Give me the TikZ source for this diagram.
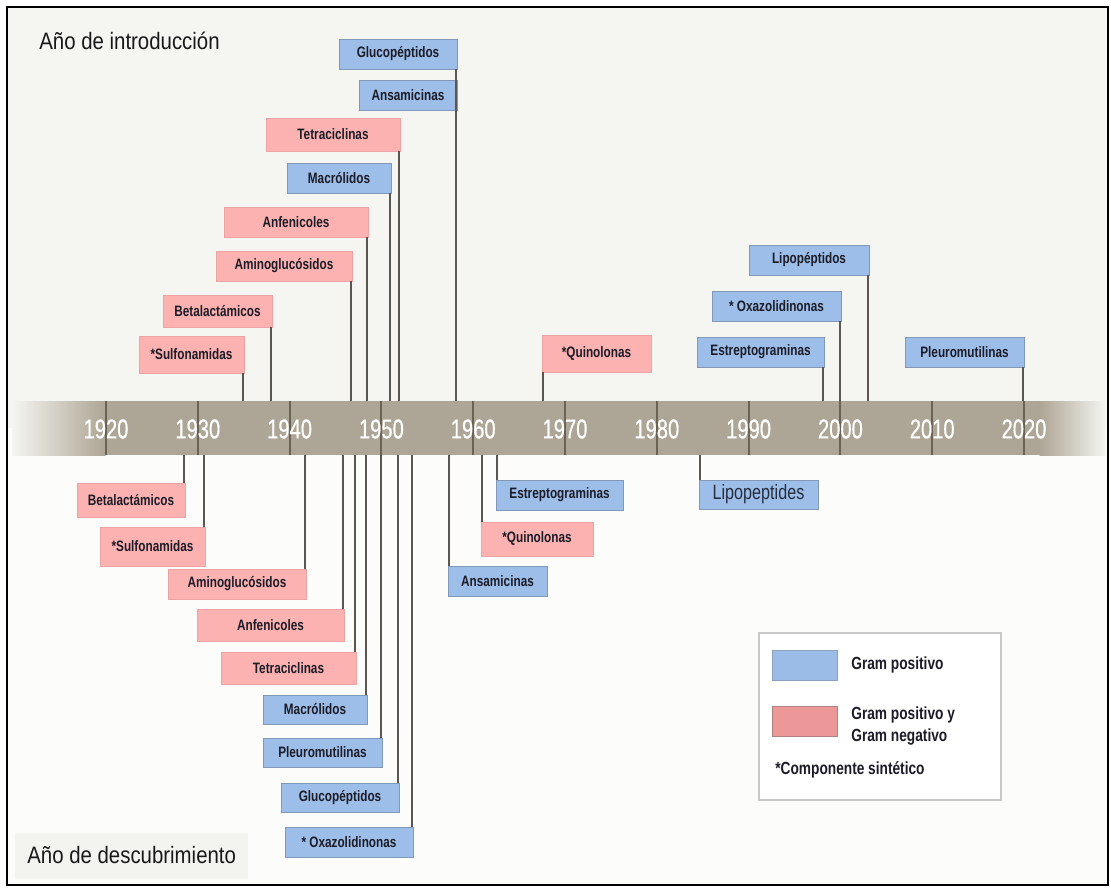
\documentclass[tikz,border=0pt]{standalone}
\usepackage{fontspec}
\setmainfont{Liberation Sans}
\newfontfamily\condf{Liberation Sans}[FakeStretch=0.78]
\newfontfamily\titlef{Liberation Sans}[FakeStretch=0.86]
\newfontfamily\yearf{Liberation Sans}[FakeStretch=0.74,FakeBold=0.6]
\definecolor{bgU}{HTML}{F5F5F1}
\definecolor{bgL}{HTML}{FCFDFA}
\definecolor{bandc}{HTML}{ADA595}
\definecolor{tickc}{HTML}{6A6253}
\definecolor{connc}{HTML}{5C5550}
\definecolor{blueF}{HTML}{9DBEE8}
\definecolor{blueD}{HTML}{8298B8}
\definecolor{pinkF}{HTML}{FDB2B2}
\definecolor{pinkD}{HTML}{EBA3A3}
\definecolor{txtc}{HTML}{1C1C28}
\definecolor{descbg}{HTML}{F3F4F0}
\newcommand\tlbox[7]{\node[#6, minimum width={(#4-#2)*0.02cm}, minimum height={(#5-#3)*0.02cm}] (#1) at ({(#2+#4)/2},{(#3+#5)/2}) {#7};}
\tikzset{
  boxbase/.style={inner sep=0pt, outer sep=0pt, text=txtc, font=\condf\bfseries\fontsize{8.6}{10}\selectfont},
  bluebox/.style={boxbase, fill=blueF, draw=blueD, line width=0.5pt},
  pinkbox/.style={boxbase, fill=pinkF, draw=pinkD, line width=0.3pt},
  conn/.style={draw=connc, line width=1.05pt},
  tickln/.style={draw=tickc, line width=1.05pt},
  yearlbl/.style={text=white, font=\yearf\fontsize{15.5}{17}\selectfont, inner sep=0pt},
  titlelbl/.style={text=black!90, font=\titlef\fontsize{13.5}{16}\selectfont, inner sep=0pt, anchor=base west},
  legtxt/.style={text=txtc, font=\condf\bfseries\fontsize{10}{12.5}\selectfont, inner sep=0pt, align=left}
}
\begin{document}
\begin{tikzpicture}[x=0.02cm, y=-0.02cm]
% background and frame
\fill[white] (0,0) rectangle (1111,888);
\useasboundingbox (0,0) rectangle (1111,888);
\fill[bgU] (7,7) rectangle (1108,428);
\fill[bgL] (7,428) rectangle (1108,885);
\fill[descbg] (15,833) rectangle (248,879);
\draw[black, line width=0.7pt] (7,7) rectangle (1108,885);
% titles
\node[titlelbl] (tIntro) at (39,50) {Año de introducción};
\node[titlelbl] (tDesc) at (27,863) {Año de descubrimiento};
% band
\coordinate (bandT) at (0,401);
\coordinate (bandB) at (0,455);
\fill[bandc] (105,401) rectangle (1040,455);
\shade[left color=bgU, right color=bandc] (12,401) rectangle (105.5,455);
\shade[left color=bandc, right color=bgU] (1039.5,401) rectangle (1106,455);
\foreach \yr in {1920,1930,...,2020}{
  \pgfmathsetmacro{\xx}{106+(\yr-1920)*9.18}
  \draw[tickln] (\xx,401) -- (\xx,455);
  \node[yearlbl] (y\yr) at (\xx,429) {\yr};
}
% upper boxes (introduction)
\tlbox{uGluc}{339}{39}{457}{69}{bluebox}{Glucopéptidos}
\tlbox{uAnsa}{359}{80}{457}{110}{bluebox}{Ansamicinas}
\tlbox{uTetra}{266}{118}{400}{151}{pinkbox}{Tetraciclinas}
\tlbox{uMacro}{287}{163}{391}{193}{bluebox}{Macrólidos}
\tlbox{uAnfe}{224}{207}{368}{237}{pinkbox}{Anfenicoles}
\tlbox{uAmino}{216}{251}{352}{281}{pinkbox}{Aminoglucósidos}
\tlbox{uBeta}{163}{295}{272}{327}{pinkbox}{Betalactámicos}
\tlbox{uSulfa}{139}{336}{244}{373}{pinkbox}{*Sulfonamidas}
\tlbox{uQuino}{542}{335}{651}{372}{pinkbox}{*Quinolonas}
\tlbox{uLipo}{749}{245}{869}{275}{bluebox}{Lipopéptidos}
\tlbox{uOxa}{712}{291}{841}{321}{bluebox}{* Oxazolidinonas}
\tlbox{uEstre}{697}{337}{824}{367}{bluebox}{Estreptograminas}
\tlbox{uPleuro}{905}{337}{1024}{367}{bluebox}{Pleuromutilinas}
\foreach \n in {uGluc,uAnsa,uTetra,uMacro,uAnfe,uAmino,uBeta,uSulfa,uLipo,uOxa,uEstre,uPleuro}{
  \draw[conn] ([xshift=-0.5pt]\n.south east) -- ([xshift=-0.5pt]\n.south east |- bandT);
}
\draw[conn] ([xshift=0.5pt]uQuino.south west) -- ([xshift=0.5pt]uQuino.south west |- bandT);
% lower boxes (discovery)
\tlbox{lBeta}{77}{483}{185}{517}{pinkbox}{Betalactámicos}
\tlbox{lSulfa}{100}{527}{205}{566}{pinkbox}{*Sulfonamidas}
\tlbox{lAmino}{168}{569}{306}{599}{pinkbox}{Aminoglucósidos}
\tlbox{lAnfe}{197}{609}{344}{641}{pinkbox}{Anfenicoles}
\tlbox{lTetra}{221}{652}{356}{684}{pinkbox}{Tetraciclinas}
\tlbox{lMacro}{263}{695}{367}{724}{bluebox}{Macrólidos}
\tlbox{lPleuro}{263}{738}{382}{767}{bluebox}{Pleuromutilinas}
\tlbox{lGluc}{281}{783}{399}{812}{bluebox}{Glucopéptidos}
\tlbox{lOxa}{285}{827}{413}{857}{bluebox}{* Oxazolidinonas}
\tlbox{lEstre}{496}{480}{623}{510}{bluebox}{Estreptograminas}
\tlbox{lQuino}{481}{522}{593}{556}{pinkbox}{*Quinolonas}
\tlbox{lAnsa}{448}{566}{547}{596}{bluebox}{Ansamicinas}
\tlbox{lLipo}{699}{480}{818}{509}{bluebox, font=\condf\fontsize{11.8}{13}\selectfont, text={rgb,255:red,38;green,46;blue,62}}{Lipopeptides}
\foreach \n in {lBeta,lSulfa,lAmino,lAnfe,lTetra,lMacro,lPleuro,lGluc,lOxa}{
  \draw[conn] ([xshift=-0.7pt]\n.north east) -- ([xshift=-0.7pt]\n.north east |- bandB);
}
\foreach \n in {lEstre,lQuino,lAnsa,lLipo}{
  \draw[conn] ([xshift=0.7pt]\n.north west) -- ([xshift=0.7pt]\n.north west |- bandB);
}
% legend
\node[draw={rgb,255:red,200;green,200;blue,200}, fill=white, line width=0.6pt, inner sep=0pt, outer sep=0pt,
      minimum width={242*0.02cm}, minimum height={167*0.02cm}] (legend) at (880,716.5) {};
\node[fill={rgb,255:red,155;green,188;blue,230}, draw={rgb,255:red,140;green,160;blue,190}, line width=0.4pt, inner sep=0pt,
      minimum width={65*0.02cm}, minimum height={30*0.02cm}] (swB) at (804.5,665) {};
\node[fill={rgb,255:red,236;green,152;blue,152}, draw={rgb,255:red,175;green,130;blue,130}, line width=0.4pt, inner sep=0pt,
      minimum width={65*0.02cm}, minimum height={30*0.02cm}] (swP) at (804.5,721) {};
\node[legtxt, anchor=west] (lgB) at (851,665) {Gram positivo};
\node[legtxt, anchor=west] (lgP) at (851,726) {Gram positivo y\\Gram negativo};
\node[legtxt, anchor=west] (lgS) at (775,770) {*Componente sintético};
\end{tikzpicture}
\end{document}
